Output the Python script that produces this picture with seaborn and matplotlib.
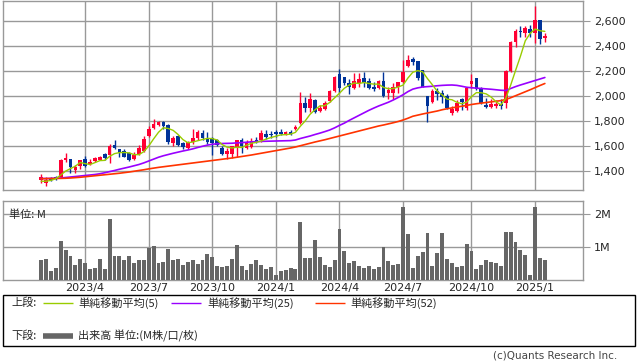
import numpy as np
import pandas as pd
import matplotlib
matplotlib.use("Agg")
import matplotlib.pyplot as plt
import seaborn as sns
from matplotlib.patches import Rectangle
from matplotlib.lines import Line2D

# ---------------- data (weekly, idx 0 = week of 2023-01-30) ----------------
opens = [1326, 1305, 1340, 1350, 1355, 1488, 1493, 1408, 1440, 1500,
         1453, 1480, 1490, 1533, 1528, 1608, 1573, 1563, 1541, 1496,
         1533, 1563, 1680, 1745, 1770, 1795, 1770, 1621, 1680, 1621,
         1587, 1635, 1661, 1707, 1667, 1661, 1648, 1581, 1533, 1533,
         1581, 1648, 1581, 1589, 1648, 1648, 1693, 1696, 1709, 1709,
         1693, 1715, 1733, 1781, 1947, 1907, 1968, 1880, 1896, 1960,
         2040, 2176, 2155, 2107, 2067, 2101, 2141, 2123, 2075, 2061,
         2123, 2021, 2027, 2075, 2115, 2240, 2296, 2280, 2208, 2000,
         1955, 2043, 2021, 2003, 1861, 1883, 1973, 1907, 2096, 2141,
         2061, 1928, 1915, 1920, 1936, 1941, 2203, 2435, 2520, 2507,
         2533, 2501, 2608, 2467]
highs = [1376, 1355, 1350, 1360, 1495, 1541, 1495, 1448, 1490, 1520,
         1495, 1515, 1520, 1545, 1620, 1650, 1573, 1575, 1555, 1550,
         1610, 1680, 1760, 1816, 1800, 1800, 1775, 1680, 1690, 1635,
         1640, 1736, 1728, 1728, 1710, 1675, 1660, 1600, 1581, 1600,
         1648, 1661, 1648, 1667, 1675, 1728, 1728, 1723, 1728, 1733,
         1723, 1728, 1768, 2035, 1989, 2021, 1973, 1928, 1960, 2048,
         2160, 2213, 2155, 2133, 2181, 2181, 2189, 2147, 2109, 2128,
         2189, 2075, 2107, 2115, 2290, 2328, 2310, 2280, 2208, 2000,
         2053, 2061, 2048, 2013, 1920, 1968, 1981, 2069, 2176, 2141,
         2069, 1981, 1973, 1968, 1973, 2208, 2443, 2533, 2560, 2560,
         2568, 2720, 2608, 2501]
lows = [1307, 1283, 1320, 1330, 1350, 1475, 1381, 1381, 1420, 1430,
        1445, 1470, 1485, 1490, 1467, 1575, 1515, 1510, 1480, 1488,
        1528, 1555, 1670, 1735, 1760, 1740, 1620, 1600, 1600, 1573,
        1573, 1620, 1648, 1648, 1620, 1528, 1600, 1528, 1493, 1501,
        1515, 1541, 1573, 1581, 1621, 1635, 1653, 1667, 1675, 1688,
        1685, 1685, 1728, 1776, 1875, 1875, 1867, 1869, 1888, 1955,
        2035, 2021, 2088, 2013, 2053, 2075, 2075, 2053, 2043, 2053,
        1995, 1973, 1973, 2021, 2101, 2235, 2248, 2128, 2069, 1795,
        1947, 1968, 1941, 1893, 1848, 1875, 1888, 1888, 2061, 2048,
        1936, 1901, 1901, 1901, 1893, 1901, 2195, 2395, 2475, 2475,
        2475, 2421, 2413, 2435]
closes = [1352, 1330, 1330, 1340, 1488, 1507, 1429, 1429, 1488, 1440,
          1475, 1501, 1510, 1501, 1600, 1581, 1541, 1515, 1488, 1530,
          1581, 1659, 1740, 1775, 1795, 1760, 1630, 1667, 1608, 1589,
          1635, 1661, 1715, 1661, 1635, 1621, 1608, 1533, 1560, 1600,
          1648, 1600, 1621, 1643, 1635, 1701, 1675, 1685, 1693, 1693,
          1709, 1693, 1755, 1941, 1907, 1973, 1875, 1907, 1947, 2040,
          2155, 2061, 2107, 2075, 2123, 2133, 2101, 2067, 2053, 2123,
          2000, 2048, 2075, 2115, 2195, 2288, 2275, 2141, 2069, 1920,
          2043, 2016, 1995, 1901, 1893, 1947, 1955, 2061, 2120, 2053,
          1941, 1909, 1936, 1936, 1920, 2203, 2435, 2520, 2509, 2541,
          2501, 2608, 2453, 2483]
volume_m = [0.62, 0.65, 0.27, 0.35, 1.19, 0.92, 0.74, 0.44, 0.65, 0.50,
            0.32, 0.35, 0.65, 0.32, 1.85, 0.74, 0.74, 0.59, 0.74, 0.50,
            0.59, 0.59, 0.98, 1.04, 0.50, 0.53, 0.95, 0.62, 0.65, 0.44,
            0.53, 0.59, 0.47, 0.59, 0.80, 0.71, 0.41, 0.38, 0.41, 0.65,
            1.07, 0.41, 0.29, 0.47, 0.59, 0.44, 0.32, 0.38, 0.14, 0.26,
            0.29, 0.35, 0.32, 1.76, 0.68, 0.68, 1.22, 0.71, 0.44, 0.38,
            0.62, 1.55, 0.89, 0.50, 0.56, 0.41, 0.35, 0.41, 0.32, 0.38,
            1.00, 0.56, 0.44, 0.47, 2.21, 1.40, 0.35, 0.74, 0.86, 1.43,
            0.41, 0.83, 1.43, 0.65, 0.50, 0.38, 0.41, 1.10, 0.89, 0.32,
            0.44, 0.59, 0.53, 0.50, 0.41, 1.46, 1.46, 1.16, 0.92, 0.77,
            0.14, 2.21, 0.68, 0.59]
ma5 = [1318, 1318, 1325, 1338, 1368, 1399, 1419, 1439, 1468, 1459,
       1452, 1467, 1483, 1485, 1517, 1539, 1547, 1548, 1545, 1531,
       1531, 1555, 1600, 1657, 1710, 1746, 1740, 1725, 1692, 1651,
       1626, 1632, 1642, 1652, 1661, 1659, 1648, 1612, 1591, 1584,
       1590, 1588, 1606, 1622, 1629, 1640, 1655, 1668, 1678, 1689,
       1691, 1695, 1709, 1758, 1801, 1854, 1890, 1921, 1922, 1948,
       1985, 2022, 2062, 2088, 2104, 2100, 2108, 2100, 2095, 2095,
       2069, 2058, 2060, 2072, 2087, 2144, 2190, 2203, 2194, 2139,
       2090, 2038, 2009, 1975, 1970, 1950, 1938, 1951, 1995, 2027,
       2026, 2017, 1992, 1955, 1928, 1981, 2086, 2203, 2317, 2442,
       2501, 2536, 2522, 2517]
ma25 = [1340, 1340, 1341, 1342, 1344, 1348, 1352, 1356, 1360, 1364,
        1368, 1372, 1378, 1386, 1395, 1404, 1414, 1423, 1432, 1442,
        1452, 1465, 1480, 1495, 1510, 1522, 1532, 1542, 1551, 1560,
        1568, 1577, 1588, 1598, 1607, 1614, 1618, 1620, 1621, 1622,
        1625, 1627, 1630, 1633, 1635, 1637, 1638, 1639, 1640, 1641,
        1642, 1643, 1648, 1660, 1670, 1680, 1692, 1703, 1715, 1728,
        1745, 1765, 1783, 1805, 1825, 1845, 1865, 1885, 1903, 1920,
        1935, 1950, 1968, 1988, 2010, 2035, 2055, 2065, 2072, 2075,
        2078, 2082, 2085, 2087, 2088, 2085, 2078, 2070, 2066, 2063,
        2060, 2057, 2054, 2050, 2046, 2044, 2060, 2075, 2088, 2100,
        2112, 2124, 2136, 2148]
ma52 = [1338, 1339, 1340, 1340, 1341, 1342, 1344, 1347, 1350, 1354,
        1358, 1362, 1366, 1370, 1374, 1378, 1382, 1387, 1392, 1398,
        1404, 1410, 1417, 1423, 1429, 1434, 1439, 1444, 1449, 1454,
        1459, 1464, 1469, 1474, 1479, 1484, 1489, 1494, 1499, 1504,
        1510, 1516, 1522, 1528, 1535, 1542, 1549, 1556, 1563, 1570,
        1577, 1584, 1592, 1602, 1612, 1622, 1632, 1641, 1650, 1660,
        1670, 1680, 1690, 1700, 1710, 1720, 1730, 1740, 1750, 1760,
        1768, 1777, 1786, 1796, 1808, 1822, 1838, 1847, 1856, 1864,
        1872, 1880, 1890, 1898, 1905, 1912, 1918, 1925, 1932, 1938,
        1943, 1948, 1953, 1958, 1963, 1972, 1986, 2002, 2018, 2034,
        2050, 2067, 2084, 2100]

x_tick_pos = [9, 22, 35, 48, 61, 74, 88, 101]
x_tick_labels = ["2023/4", "2023/7", "2023/10", "2024/1",
                 "2024/4", "2024/7", "2024/10", "2025/1"]
price_ticks = [1400, 1600, 1800, 2000, 2200, 2400, 2600]
price_tick_labels = ["1,400", "1,600", "1,800", "2,000", "2,200", "2,400", "2,600"]
vol_ticks = [1, 2]
vol_tick_labels = ["1M", "2M"]
legend_labels = ["単純移動平均(5)", "単純移動平均(25)", "単純移動平均(52)"]
volume_label = "出来高 単位:(M株/口/枚)"

# ---------------- styling ----------------
sns.set_style("white")
plt.rcParams['font.family'] = ['DejaVu Sans']
CJK = ['Noto Sans CJK JP', 'DejaVu Sans']
UP, DOWN = "#ff0033", "#003399"
C5, C25, C52 = "#99cc00", "#9900ff", "#ff3300"
GRID = "#999999"

W, H = 638, 362
fig = plt.figure(figsize=(W / 100, H / 100), dpi=100)
def fx(x): return x / W
def fy(y): return 1 - y / H

ax = fig.add_axes([fx(3), fy(190), (583 - 3) / W, (190 - 1) / H])
axv = fig.add_axes([fx(3), fy(280), (583 - 3) / W, (280 - 201) / H])

df = pd.DataFrame({"idx": np.arange(len(closes)), "open": opens, "high": highs,
                   "low": lows, "close": closes, "vol": volume_m,
                   "ma5": ma5, "ma25": ma25, "ma52": ma52})
colors = [UP if c >= o else DOWN for o, c in zip(df.open, df.close)]

# candles
ax.vlines(df.idx, df.low, df.high, colors=colors, lw=1, zorder=2)
body_bottom = np.minimum(df.open, df.close)
body_h = np.maximum(np.abs(df.close - df.open), 4)
ax.bar(df.idx, body_h, bottom=body_bottom, width=0.74, color=colors,
       linewidth=0, zorder=3)

# moving averages
sns.lineplot(data=df, x="idx", y="ma25", color=C25, lw=1.2, ax=ax, zorder=4)
sns.lineplot(data=df, x="idx", y="ma52", color=C52, lw=1.2, ax=ax, zorder=5)
sns.lineplot(data=df, x="idx", y="ma5", color=C5, lw=1.0, ax=ax, zorder=6)

# volume (categorical positions 0..n-1 coincide with idx)
sns.barplot(data=df, x="idx", y="vol", color="#666666", saturation=1,
            width=0.8, errorbar=None, linewidth=0, edgecolor="none",
            ax=axv, zorder=3)

xlim = (-7.8, 110.8)
for a in (ax, axv):
    a.set_xlim(*xlim)
    a.set_xlabel("")
    a.set_ylabel("")
    a.set_xticks(x_tick_pos)
    a.grid(True, color=GRID, lw=1)
    a.set_axisbelow(True)
    for s in a.spines.values():
        s.set_color(GRID)
        s.set_linewidth(1)
    a.tick_params(axis='y', left=False, right=True, labelleft=False,
                  labelright=True, length=5, color=GRID, pad=3, labelsize=8)

ax.set_ylim(1248, 2760)
ax.set_yticks(price_ticks)
ax.set_yticklabels(price_tick_labels)
ax.tick_params(axis='x', length=0, labelbottom=False)

axv.set_ylim(0, 2.39)
axv.set_yticks(vol_ticks)
axv.set_yticklabels(vol_tick_labels)
axv.set_xticklabels(x_tick_labels)
axv.tick_params(axis='x', length=0, pad=2, labelsize=8)

axv.text(0.01, 0.83, "単位: M", transform=axv.transAxes, fontsize=8,
         family=CJK, va="center", ha="left")

# legend box
fig.add_artist(Rectangle((fx(3), fy(346)), (635 - 3) / W, (346 - 295) / H,
                         transform=fig.transFigure, fill=False, ec="black", lw=1))
def legline(x0, x1, y, c, lw):
    fig.add_artist(Line2D([fx(x0), fx(x1)], [fy(y), fy(y)],
                          transform=fig.transFigure, color=c, lw=lw,
                          solid_capstyle="butt"))
fig.text(fx(11), fy(303), "上段:", fontsize=8, family=CJK, va="center")
legline(43, 73, 303, C5, 1)
fig.text(fx(78), fy(303), legend_labels[0], fontsize=8, family=CJK, va="center")
legline(171, 201, 303, C25, 1)
fig.text(fx(207), fy(303), legend_labels[1], fontsize=8, family=CJK, va="center")
legline(315, 345, 303, C52, 1)
fig.text(fx(350), fy(303), legend_labels[2], fontsize=8, family=CJK, va="center")
fig.text(fx(11), fy(336), "下段:", fontsize=8, family=CJK, va="center")
legline(43, 73, 336, "#666666", 4)
fig.text(fx(78), fy(336), volume_label, fontsize=8, family=CJK, va="center")

fig.text(fx(617), fy(356), "(c)Quants Research Inc.", fontsize=7.5,
         color="#444444", ha="right", va="center")

fig.savefig("out.png", dpi=100)
